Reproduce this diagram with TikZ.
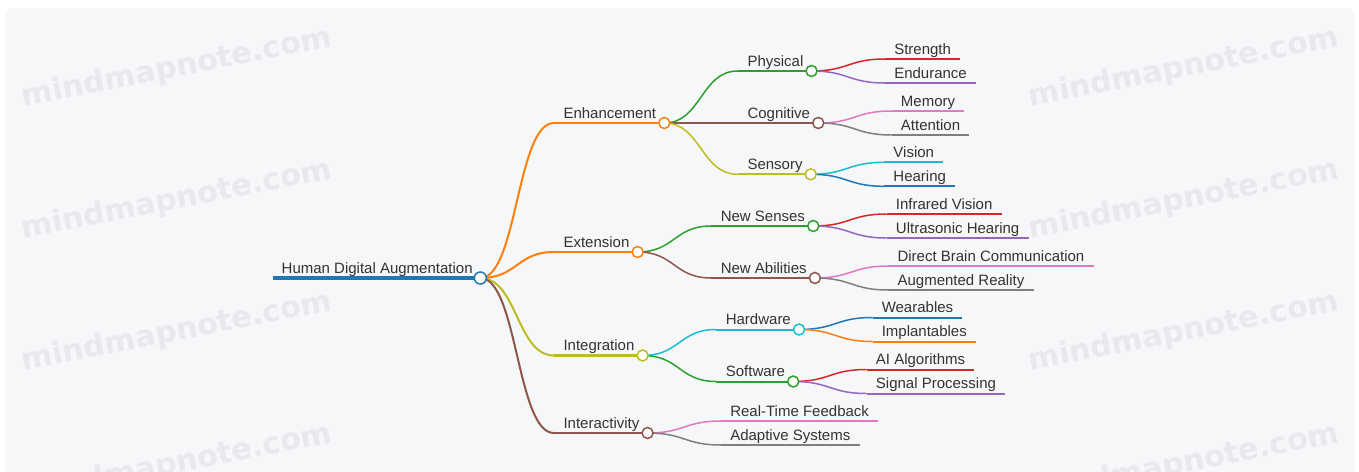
\documentclass[tikz,border=0pt]{standalone}
\usepackage{fontspec}
\setmainfont{Liberation Sans}
\newfontfamily\wmfont{DejaVu Sans}
\usetikzlibrary{calc}

% category palette
\definecolor{c-blue}{HTML}{1F77B4}
\definecolor{c-orange}{HTML}{FF7F0E}
\definecolor{c-green}{HTML}{2CA02C}
\definecolor{c-red}{HTML}{D62728}
\definecolor{c-purple}{HTML}{9467BD}
\definecolor{c-brown}{HTML}{8C564B}
\definecolor{c-pink}{HTML}{E377C2}
\definecolor{c-gray}{HTML}{7F7F7F}
\definecolor{c-olive}{HTML}{BCBD22}
\definecolor{c-cyan}{HTML}{17BECF}
\definecolor{txt}{HTML}{333333}
\definecolor{panel}{HTML}{F6F7F9}
\definecolor{wmc}{HTML}{E8E9EC}

\pgfdeclarelayer{back}
\pgfdeclarelayer{links}
\pgfsetlayers{back,links,main}

\tikzset{
  lbl/.style={inner sep=0pt, font=\fontsize{15}{18}\selectfont, text=txt},
  mmdot/.style={circle, draw=#1, fill=white, line width=1.5pt,
                minimum size=11pt, inner sep=0pt},
  wm/.style={font=\wmfont\bfseries\fontsize{30}{36}\selectfont, text=wmc,
             rotate=11, inner sep=0pt},
}

% inner topic: name, parent, vertical offset, colour, line width, link width, text
\newcommand\mmbranch[7]{%
  \coordinate (#1-s) at ($(#2)+(73.5,#3)$);
  \node[lbl, anchor=base west] (#1-t) at ([shift={(9.5pt,5pt)}]#1-s) {#7};
  \coordinate (#1) at ([shift={(8pt,-5pt)}]#1-t.base east);
  \begin{pgfonlayer}{links}
    \draw[#4, line width=#5] (#1-s) -- (#1);
    \draw[#4, line width=#6] (#2) .. controls +(37,0) and +(-37,0) .. (#1-s);
  \end{pgfonlayer}
  \node[mmdot=#4] (#1-dot) at (#1) {};
}

% leaf topic: name, parent, vertical offset, colour, text
\newcommand\mmleaf[5]{%
  \coordinate (#1-s) at ($(#2)+(73.5,#3)$);
  \node[lbl, anchor=base west, inner xsep=9pt] (#1) at ([yshift=5pt]#1-s) {#5};
  \begin{pgfonlayer}{links}
    \draw[#4, line width=2pt] ([yshift=-5pt]#1.base west) -- ([yshift=-5pt]#1.base east);
    \draw[#4, line width=1.5pt] (#2) .. controls +(37,0) and +(-37,0) .. (#1-s);
  \end{pgfonlayer}
}

\begin{document}
\begin{tikzpicture}[x=1pt, y=-1pt]
  \useasboundingbox (0,0) rectangle (1359,471);
  \clip (0,0) rectangle (1359,471);

  \begin{pgfonlayer}{back}
    \fill[white] (0,0) rectangle (1359,471);
    \fill[panel, rounded corners=8pt] (5,8) rectangle (1355,490);
    \foreach \wy in {68,200,332,464} {
      \node[wm] at (177,\wy) {mindmapnote.com};
      \node[wm] at (1184,\wy) {mindmapnote.com};
    }
  \end{pgfonlayer}

  % central topic
  \coordinate (root-s) at (273,278);
  \node[lbl, anchor=base west] (root-t) at (281.5,273) {Human Digital Augmentation};
  \coordinate (root) at ([shift={(7.5pt,-5pt)}]root-t.base east);
  \begin{pgfonlayer}{links}
    \draw[c-blue, line width=4pt] (root-s) -- (root);
  \end{pgfonlayer}
  \node[mmdot=c-blue, minimum size=12pt] (root-dot) at (root) {};

  % first level
  \mmbranch{enh}{root}{-155}{c-orange}{2.5pt}{2pt}{Enhancement}
  \mmbranch{ext}{root}{-26}{c-orange}{2.5pt}{2pt}{Extension}
  \mmbranch{integ}{root}{77.5}{c-olive}{2.5pt}{2pt}{Integration}
  \mmbranch{inter}{root}{155}{c-brown}{2.5pt}{2pt}{Interactivity}

  % Enhancement
  \mmbranch{phys}{enh}{-52}{c-green}{2pt}{1.5pt}{Physical}
  \mmbranch{cogn}{enh}{0}{c-brown}{2pt}{1.5pt}{Cognitive}
  \mmbranch{sens}{enh}{51.3}{c-olive}{2pt}{1.5pt}{Sensory}
  \mmleaf{str}{phys}{-12}{c-red}{Strength}
  \mmleaf{endu}{phys}{12}{c-purple}{Endurance}
  \mmleaf{mem}{cogn}{-12}{c-pink}{Memory}
  \mmleaf{att}{cogn}{12}{c-gray}{Attention}
  \mmleaf{vis}{sens}{-12}{c-cyan}{Vision}
  \mmleaf{hear}{sens}{12}{c-blue}{Hearing}

  % Extension
  \mmbranch{nsen}{ext}{-26}{c-green}{2pt}{1.5pt}{New Senses}
  \mmbranch{nabi}{ext}{26}{c-brown}{2pt}{1.5pt}{New Abilities}
  \mmleaf{irv}{nsen}{-12}{c-red}{Infrared Vision}
  \mmleaf{ush}{nsen}{12}{c-purple}{Ultrasonic Hearing}
  \mmleaf{dbc}{nabi}{-12}{c-pink}{Direct Brain Communication}
  \mmleaf{augr}{nabi}{12}{c-gray}{Augmented Reality}

  % Integration
  \mmbranch{hw}{integ}{-26}{c-cyan}{2pt}{1.5pt}{Hardware}
  \mmbranch{sw}{integ}{26}{c-green}{2pt}{1.5pt}{Software}
  \mmleaf{wear}{hw}{-12}{c-blue}{Wearables}
  \mmleaf{impl}{hw}{12}{c-orange}{Implantables}
  \mmleaf{algo}{sw}{-12}{c-red}{AI Algorithms}
  \mmleaf{sig}{sw}{12}{c-purple}{Signal Processing}

  % Interactivity
  \mmleaf{rtf}{inter}{-12}{c-pink}{Real-Time Feedback}
  \mmleaf{adap}{inter}{12}{c-gray}{Adaptive Systems}
\end{tikzpicture}
\end{document}
